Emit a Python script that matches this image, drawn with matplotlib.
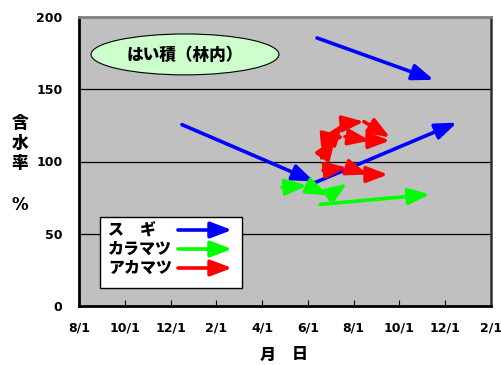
import matplotlib
matplotlib.use("Agg")
import matplotlib.pyplot as plt
from matplotlib.patches import Ellipse, Rectangle

plt.rcParams['font.family'] = ['Noto Sans CJK JP', 'DejaVu Sans']
plt.rcParams['font.weight'] = 'bold'

# months counted from 8/1 of the first year
tick_pos = [0, 2, 4, 6, 8, 10, 12, 14, 16, 18]
tick_labels = ['8/1', '10/1', '12/1', '2/1', '4/1', '6/1', '8/1', '10/1', '12/1', '2/1']

# each arrow: start month, start value, end month, end value
sugi_x0 = [4.50, 10.22, 10.40]
sugi_y0 = [125.5, 84.8, 185.5]
sugi_x1 = [10.27, 16.51, 15.50]
sugi_y1 = [86.2, 126.9, 156.5]

kara_x0 = [8.87, 9.96, 10.88, 10.53]
kara_y0 = [82.1, 83.4, 75.9, 70.3]
kara_x1 = [9.96, 10.88, 11.71, 15.33]
kara_y1 = [83.4, 76.6, 84.8, 77.2]

aka_x0 = [10.60, 10.97, 11.53, 12.45, 10.75, 11.62, 12.71, 10.66, 11.71, 12.63]
aka_y0 = [102.5, 114.5, 126.2, 127.6, 115.9, 117.2, 114.5, 93.8, 95.9, 91.0]
aka_x1 = [11.20, 11.53, 12.45, 13.59, 11.62, 12.71, 13.59, 11.71, 12.63, 13.50]
aka_y1 = [116.5, 126.2, 127.6, 116.6, 117.2, 114.5, 114.5, 95.9, 91.0, 91.0]

series = [
    ('ス　ギ', '#0000FF', sugi_x0, sugi_y0, sugi_x1, sugi_y1),
    ('カラマツ', '#00FF00', kara_x0, kara_y0, kara_x1, kara_y1),
    ('アカマツ', '#FF0000', aka_x0, aka_y0, aka_x1, aka_y1),
]

arrow_style = '-|>,head_length=0.95,head_width=0.36'
arrow_kw = dict(arrowstyle=arrow_style, lw=2.6, mutation_scale=13.5,
                shrinkA=0, shrinkB=0)

fig = plt.figure(figsize=(5.01, 3.65), dpi=100)
ax = fig.add_axes([79 / 501, 1 - 306 / 365, 412 / 501, 289 / 365])
ax.set_facecolor('#C0C0C0')
ax.set_xlim(0, 18)
ax.set_ylim(0, 200)
ax.set_xticks(tick_pos)
ax.set_xticklabels(tick_labels, family=['DejaVu Sans'], fontweight='bold')
ax.set_yticks([0, 50, 100, 150, 200])
ax.set_yticklabels(['0', '50', '100', '150', '200'], family=['DejaVu Sans'],
                   fontweight='bold')
ax.tick_params(axis='x', direction='in', length=4, pad=11, labelsize=9)
ax.tick_params(axis='y', length=0, pad=12, labelsize=9)
ax.grid(axis='y', color='black', lw=0.9)
ax.set_axisbelow(True)
for s in ['left', 'bottom']:
    ax.spines[s].set_linewidth(2)
    ax.spines[s].set_color('black')
ax.spines['right'].set_linewidth(1.8)
ax.spines['right'].set_color('#303030')
ax.spines['top'].set_linewidth(2)
ax.spines['top'].set_color('#808080')

for name, col, x0, y0, x1, y1 in series:
    for i in range(len(x0)):
        ax.annotate('', xy=(x1[i], y1[i]), xytext=(x0[i], y0[i]),
                    arrowprops=dict(color=col, **arrow_kw))

# title ellipse
ax.add_patch(Ellipse((4.63, 174.1), 8.21, 28.3, facecolor='#CCFFCC',
                     edgecolor='black', lw=0.8, zorder=3))
ax.text(4.63, 174.1, 'はい積（林内）', ha='center', va='center',
        fontsize=12, fontweight='heavy', zorder=4)

# legend box
ax.add_patch(Rectangle((100 / 501, 1 - 288 / 365), 142 / 501, 71 / 365,
                       transform=fig.transFigure, facecolor='white',
                       edgecolor='black', lw=1.0, zorder=5, clip_on=False))
for k, (name, col, *_r) in enumerate(series):
    yy = 1 - (230 + 19 * k) / 365
    ax.text(108 / 501, yy, name, ha='left', va='center', fontsize=11.5,
            fontweight='heavy', zorder=6, transform=fig.transFigure)
    ax.annotate('', xy=(232 / 501, yy), xytext=(178 / 501, yy),
                xycoords='figure fraction', textcoords='figure fraction',
                arrowprops=dict(color=col, **arrow_kw),
                zorder=7, annotation_clip=False)

# axis titles
for ch, py in zip(['含', '水', '率'], [123, 143, 163]):
    fig.text(20 / 501, 1 - py / 365, ch, ha='center', va='center',
             fontsize=12, fontweight='heavy')
fig.text(20 / 501, 1 - 205 / 365, '%', ha='center', va='center',
         fontsize=12, fontweight='bold', family=['DejaVu Sans'])
fig.text(268 / 501, 1 - 355 / 365, '月', ha='center', va='center',
         fontsize=11.5, fontweight='heavy')
fig.text(300 / 501, 1 - 355 / 365, '日', ha='center', va='center',
         fontsize=11.5, fontweight='heavy')

fig.savefig('out.png', dpi=100)
